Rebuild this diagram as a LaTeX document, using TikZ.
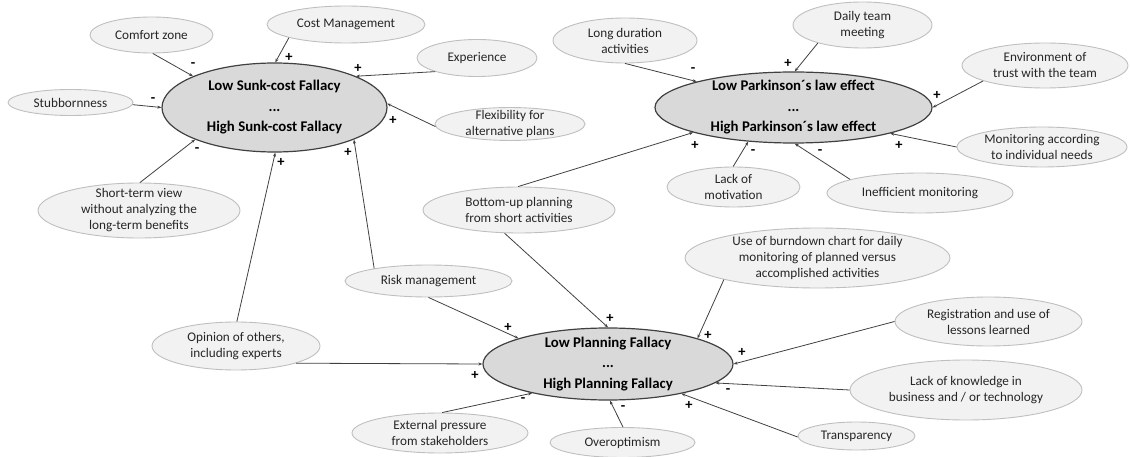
\documentclass[tikz,border=0pt]{standalone}
\usepackage{fontspec}
\setmainfont{Carlito}
\usetikzlibrary{arrows.meta,shapes.geometric}
\definecolor{linegray}{HTML}{404040}
\definecolor{factorfill}{HTML}{F2F2F2}
\definecolor{factorline}{HTML}{BFBFBF}
\definecolor{corefill}{HTML}{D9D9D9}
\definecolor{textgray}{HTML}{262626}
\tikzset{
  factor/.style={ellipse, draw=factorline, line width=0.9pt, fill=factorfill,
    inner sep=0pt, align=center, text=textgray,
    font=\fontsize{13.2}{16}\selectfont},
  core/.style={ellipse, draw=linegray, line width=1.2pt, fill=corefill,
    inner sep=0pt, inner ysep=-8pt, align=center,
    font=\fontsize{14.8}{20.5}\selectfont\bfseries},
  link/.style={draw=linegray, line width=0.8pt, -{Stealth[length=4pt,width=3pt]}},
  sign/.style={inner sep=0pt, font=\fontsize{14.5}{15}\selectfont\bfseries}
}
\begin{document}
\begin{tikzpicture}[x=1pt,y=-1pt]
\useasboundingbox (0,0) rectangle (1130,457);

% central variables
\node[core, minimum width=225, minimum height=89] (sc) at (274.5,107.5)
  {Low Sunk-cost Fallacy\\...\\High Sunk-cost Fallacy};
\node[core, minimum width=277, minimum height=71] (pk) at (793.5,107.5)
  {Low Parkinson´s law effect\\...\\High Parkinson´s law effect};
\node[core, minimum width=250, minimum height=72] (pl) at (608,364)
  {Low Planning Fallacy\\...\\High Planning Fallacy};

% influencing factors
\node[factor, minimum width=123, minimum height=36] (cz) at (151.5,35) {Comfort zone};
\node[factor, minimum width=158, minimum height=37] (cm) at (346,24.5) {Cost Management};
\node[factor, minimum width=120, minimum height=37] (ex) at (477,58) {Experience};
\node[factor, minimum width=125, minimum height=26] (sb) at (70.5,102.5) {Stubbornness};
\node[factor, minimum width=150, minimum height=32, inner ysep=-2pt] (fx) at (510,124) {Flexibility for\\alternative plans};
\node[factor, minimum width=202, minimum height=55, inner ysep=-3.5pt] (st) at (139,210.5)
  {Short-term view\\without analyzing the\\long-term benefits};
\node[factor, minimum width=144, minimum height=45] (ld) at (625,40.5) {Long duration\\activities};
\node[factor, minimum width=139, minimum height=46] (dt) at (862.5,25) {Daily team\\meeting};
\node[factor, minimum width=166, minimum height=45] (et) at (1045,65.5) {Environment of\\trust with the team};
\node[factor, minimum width=170, minimum height=40] (mn) at (1042,147) {Monitoring according\\to individual needs};
\node[factor, minimum width=186, minimum height=40] (im) at (920,193) {Inefficient monitoring};
\node[factor, minimum width=133, minimum height=40] (lm) at (733.5,187) {Lack of\\motivation};
\node[factor, minimum width=192, minimum height=46] (bu) at (519,210) {Bottom-up planning\\from short activities};
\node[factor, minimum width=167, minimum height=32] (rm) at (428.5,281) {Risk management};
\node[factor, minimum width=168, minimum height=48] (op) at (236,346) {Opinion of others,\\including experts};
\node[factor, minimum width=176, minimum height=40] (ep) at (440,433) {External pressure\\from stakeholders};
\node[factor, minimum width=145, minimum height=30] (oo) at (622.5,442.5) {Overoptimism};
\node[factor, minimum width=265, minimum height=60, inner ysep=-2.5pt] (uc) at (817.5,258)
  {Use of burndown chart for daily\\monitoring of planned versus\\accomplished activities};
\node[factor, minimum width=187, minimum height=49] (rl) at (988.5,321.5) {Registration and use of\\lessons learned};
\node[factor, minimum width=232, minimum height=60] (lk) at (966,390) {Lack of knowledge in\\business and / or technology};
\node[factor, minimum width=117, minimum height=28] (tr) at (856.5,436) {Transparency};

% influences on the sunk-cost fallacy
\draw[link] (cz.-86) -- (sc.159);
\draw[link] (cm.193) -- (sc.89);
\draw[link] (ex.198) -- (sc.21);
\draw[link] (sb.-2) -- (sc.180);
\draw[link] (fx.182) -- (sc.2);
\draw[link] (st.88) -- (sc.202);
\draw[link] (op.88) -- (sc.271);
\draw[link] (rm.167.5) -- (sc.338);

% influences on the Parkinson's law effect
\draw[link] (ld.270) -- (pk.165);
\draw[link] (dt.202) -- (pk.88);
\draw[link] (et.194) -- (pk.0);
\draw[link] (mn.180) -- (pk.345.6);
\draw[link] (im.169) -- (pk.272.4);
\draw[link] (lm.91) -- (pk.217);
\draw[link] (bu.92) -- (pk.194.8);

% influences on the planning fallacy
\draw[link] (bu.238) -- (pl.90);
\draw[link] (rm.270) -- (pl.164);
\draw[link] (op.344) -- (pl.180);
\draw[link] (ep.84) -- (pl.201);
\draw[link] (oo.88) -- (pl.273);
\draw[link] (uc.193) -- (pl.16.3);
\draw[link] (rl.180) -- (pl.0);
\draw[link] (lk.180) -- (pl.350);
\draw[link] (tr.181) -- (pl.338);

% polarity of each influence
\node[sign] (p1) at (193,65) {-};
\node[sign] (p2) at (289,57) {+};
\node[sign] (p3) at (358,68) {+};
\node[sign] (p4) at (153,100) {-};
\node[sign] (p5) at (393,120) {+};
\node[sign] (p6) at (197,150) {-};
\node[sign] (p7) at (281,162) {+};
\node[sign] (p8) at (348,152) {+};
\node[sign] (p9) at (693,70) {-};
\node[sign] (p10) at (788,63) {+};
\node[sign] (p11) at (937,95) {+};
\node[sign] (p12) at (899,145) {+};
\node[sign] (p13) at (820,152) {-};
\node[sign] (p14) at (753,152) {-};
\node[sign] (p15) at (695,145) {+};
\node[sign] (p16) at (610,318) {+};
\node[sign] (p17) at (508,327) {+};
\node[sign] (p18) at (475,375) {+};
\node[sign] (p19) at (523,400) {-};
\node[sign] (p20) at (623,408) {-};
\node[sign] (p21) at (708,335) {+};
\node[sign] (p22) at (742,352) {+};
\node[sign] (p23) at (728,391) {-};
\node[sign] (p24) at (689,405) {+};
\end{tikzpicture}
\end{document}
